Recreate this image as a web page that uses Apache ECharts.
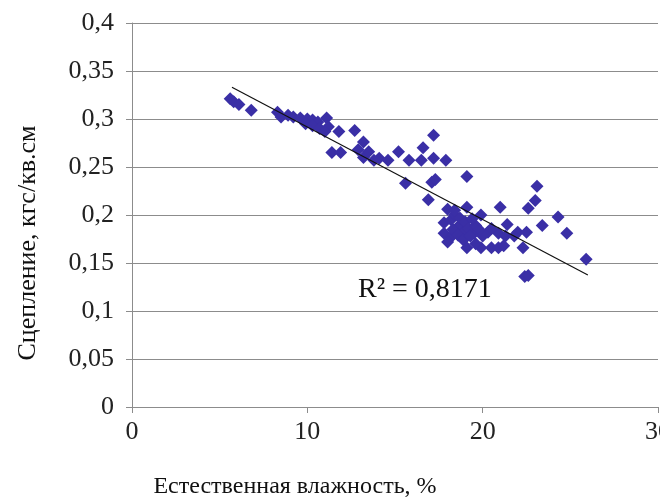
<!DOCTYPE html>
<html>
<head>
<meta charset="utf-8">
<script src="https://cdn.jsdelivr.net/npm/echarts@6/dist/echarts.min.js"></script>
<style>
html,body{margin:0;padding:0;background:#fff;overflow:hidden;width:660px;height:497px;}
#chart{width:660px;height:497px;}
</style>
</head>
<body>
<div id="chart"></div>
<script>
// Естественная влажность, % (x) vs Сцепление, кгс/кв.см (y)
var moisture = [5.6,5.8,6.1,6.8,
  8.3,8.5,8.9,9.2,9.6,10.0,10.3,10.6,9.9,10.3,10.7,11.1,11.2,11.0,11.8,12.7,13.2,11.4,11.9,12.9,13.2,13.5,13.8,14.1,14.6,15.2,15.8,16.5,16.6,17.2,17.2,17.9,
  15.6,17.1,17.3,19.1,16.9,
  18.0,19.1,19.9,21.0,22.6,23.1,23.0,24.3,23.4,24.8,25.9,22.4,22.6,
  17.8,18.2,18.6,17.8,18.2,18.0,18.9,19.5,20.3,20.9,21.4,22.0,18.4,18.7,19.0,18.3,18.6,19.2,19.6,18.9,19.3,20.0,18.4,19.4,19.8,20.5,21.3,21.8,22.5,
  19.1,19.9,20.5,20.9,21.2,22.3,19.6];
var cohesion = [0.321,0.318,0.315,0.309,
  0.307,0.302,0.304,0.302,0.301,0.300,0.299,0.297,0.295,0.293,0.290,0.301,0.292,0.287,0.287,0.288,0.276,0.265,0.265,0.268,0.260,0.266,0.257,0.259,0.257,0.266,0.257,0.257,0.270,0.259,0.283,0.257,
  0.233,0.234,0.237,0.240,0.216,
  0.206,0.208,0.200,0.208,0.207,0.230,0.215,0.198,0.189,0.181,0.154,0.136,0.137,
  0.192,0.195,0.188,0.181,0.177,0.172,0.182,0.181,0.182,0.181,0.190,0.182,0.200,0.197,0.193,0.185,0.179,0.186,0.189,0.174,0.178,0.178,0.205,0.196,0.185,0.186,0.178,0.178,0.182,
  0.166,0.166,0.166,0.166,0.168,0.166,0.170];
// linear trendline endpoints
var trendX = [5.7, 26.0];
var trendY = [0.333, 0.1375];
var r2Text = 'R² = 0,8171';
var xTitle = 'Естественная влажность, %';
var yTitle = 'Сцепление, кгс/кв.см';

var points = moisture.map(function(x,i){return [x, cohesion[i]];});
var trend = trendX.map(function(x,i){return [x, trendY[i]];});
var font = 'Liberation Serif';

var chart = echarts.init(document.getElementById('chart'), null, {renderer:'canvas', width:660, height:497});
chart.setOption({
  animation:false,
  backgroundColor:'#ffffff',
  grid:{left:132, right:2, top:23, bottom:90, containLabel:false, outerBoundsMode:'none'},
  xAxis:{
    type:'value', min:0, max:30, interval:10,
    axisLine:{show:true, lineStyle:{color:'#8c8c8c', width:1}},
    axisTick:{show:true, length:6, lineStyle:{color:'#8c8c8c'}},
    splitLine:{show:false},
    axisLabel:{color:'#222', fontFamily:font, fontSize:26, margin:12, hideOverlap:false,
      formatter:function(v){return String(v).replace('.',',');}}
  },
  yAxis:{
    type:'value', min:0, max:0.4, interval:0.05,
    axisLine:{show:true, lineStyle:{color:'#8c8c8c', width:1}},
    axisTick:{show:true, length:6, lineStyle:{color:'#8c8c8c'}},
    splitLine:{show:true, lineStyle:{color:'#8c8c8c', width:1}},
    axisLabel:{color:'#222', fontFamily:font, fontSize:26, margin:18,
      formatter:function(v){return String(+v.toFixed(2)).replace('.',',');}}
  },
  series:[
    {type:'scatter', data:points, symbol:'diamond', symbolSize:13,
      itemStyle:{color:'#3a2fa6', opacity:1}, z:3},
    {type:'line', data:trend, symbol:'none', lineStyle:{color:'#111', width:1.2}, z:4}
  ],
  graphic:[
    {type:'text', left:358, top:276, style:{text:r2Text, font:'28px "Liberation Serif"', fill:'#111'}},
    {type:'text', x:295, y:487, style:{text:xTitle, font:'24px "Liberation Serif"', fill:'#111', textAlign:'center', textVerticalAlign:'middle'}},
    {type:'text', x:28, y:243, rotation:Math.PI/2, style:{text:yTitle, font:'26px "Liberation Serif"', fill:'#111', textAlign:'center', textVerticalAlign:'middle'}}
  ]
});
</script>
</body>
</html>
